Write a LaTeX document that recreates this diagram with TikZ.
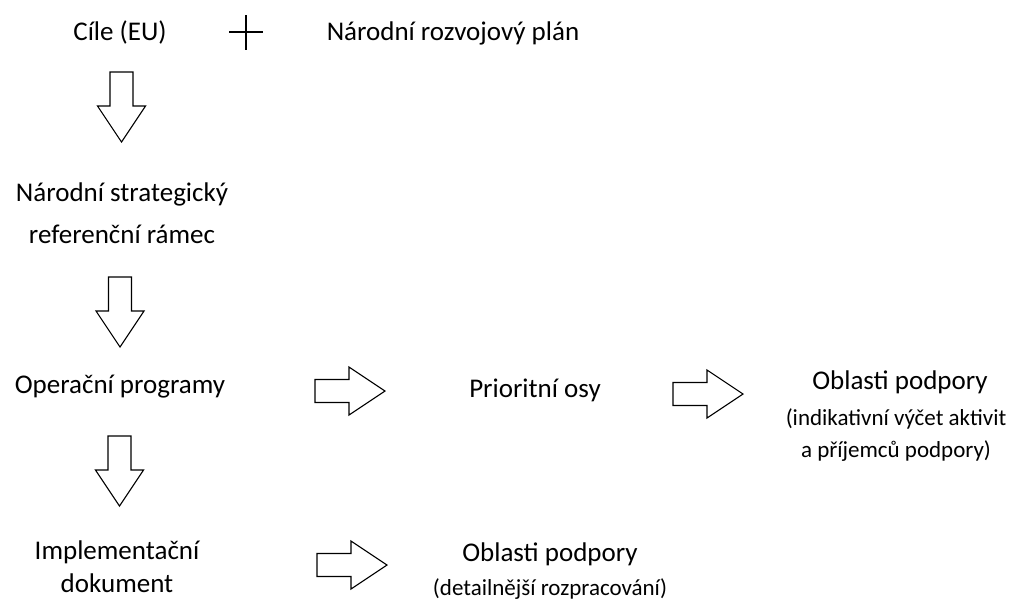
\documentclass[tikz,border=0pt]{standalone}
\usepackage{fontspec}
\setmainfont{Carlito}
\tikzset{
	lbl/.style={font=\fontsize{27}{42}\selectfont, align=center, inner sep=0pt, anchor=base},
	sublbl/.style={font=\fontsize{23}{32}\selectfont, align=center, inner sep=0pt, anchor=base},
	blockarrow/.pic={
		\draw[line width=1.1pt] (0,-11.5) -- (34,-11.5) -- (34,-24) -- (70,0) -- (34,24) -- (34,11.5) -- (0,11.5) -- cycle;
	}
}

\begin{document}
\begin{tikzpicture}[x=1pt,y=-1pt]
	\useasboundingbox (0,0) rectangle (1019,606);
	\node[lbl] (cile) at (120,40) {Cíle (EU)};
	\node[lbl] (nrp) at (453,40) {Národní rozvojový plán};
	\draw[line width=1.2pt] (229,32) -- (263,32) (246,15) -- (246,50);
	\node[lbl] (nsrr) at (122,243) {Národní strategický\\referenční rámec};
	\node[lbl] (op) at (120,393) {Operační programy};
	\node[lbl] (po) at (535,397) {Prioritní osy};
	\node[lbl] (oblA) at (900,389) {Oblasti podpory};
	\node[sublbl] (oblAsub) at (896,457) {(indikativní výčet aktivit\\a příjemců podpory)};
	\node[lbl, font=\fontsize{27}{33}\selectfont] (impl) at (117,592) {Implementační\\dokument};
	\node[lbl] (oblB) at (550,561) {Oblasti podpory};
	\node[sublbl] (oblBsub) at (550,595) {(detailnější rozpracování)};
	\foreach \x/\y in {121.5/72, 120/277, 119.5/436}
		\pic[rotate=-90] at (\x,\y) {blockarrow};
	\foreach \x/\y in {315/391, 673/394, 317/565}
		\pic at (\x,\y) {blockarrow};
\end{tikzpicture}
\end{document}
